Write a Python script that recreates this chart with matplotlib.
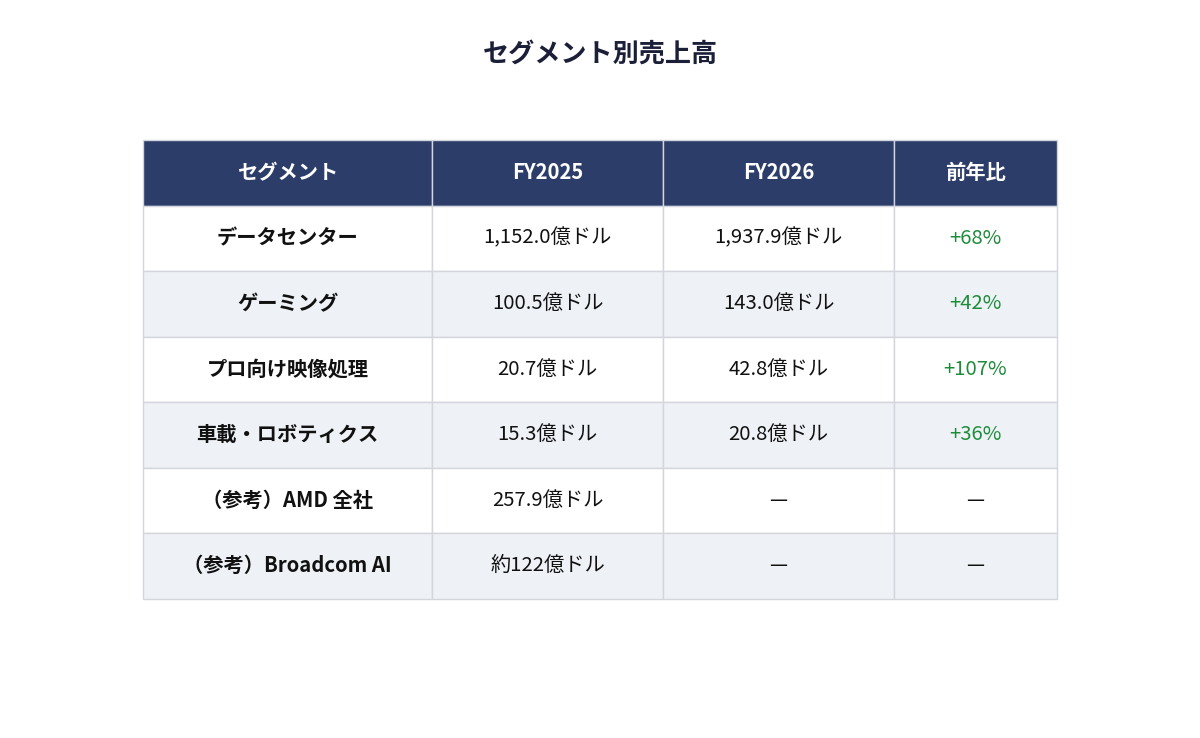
import matplotlib
matplotlib.use("Agg")
import matplotlib.pyplot as plt
from matplotlib.patches import Rectangle

plt.rcParams['font.family'] = ['Noto Sans CJK JP', 'DejaVu Sans']

title = "セグメント別売上高"
headers = ["セグメント", "FY2025", "FY2026", "前年比"]
segments = ["データセンター", "ゲーミング", "プロ向け映像処理", "車載・ロボティクス",
            "（参考）AMD 全社", "（参考）Broadcom AI"]
fy2025 = ["1,152.0億ドル", "100.5億ドル", "20.7億ドル", "15.3億ドル", "257.9億ドル", "約122億ドル"]
fy2026 = ["1,937.9億ドル", "143.0億ドル", "42.8億ドル", "20.8億ドル", "—", "—"]
yoy = ["+68%", "+42%", "+107%", "+36%", "—", "—"]

col_edges = [143, 432, 663, 894, 1057]
top = 140
header_h = 65.5
row_h = 65.5

HEADER_BG = "#2c3d69"
ALT_BG = "#eef2f7"
BORDER = "#d3d6dc"
GREEN = "#1e8c3a"
TEXT = "#111111"
FS = 14.6

fig = plt.figure(figsize=(12, 7.38), dpi=100)
ax = fig.add_axes([0, 0, 1, 1])
ax.set_xlim(0, 1200)
ax.set_ylim(738, 0)
ax.axis('off')

fig.text(0.5, 1 - 54 / 738, title, ha='center', va='center', fontsize=18.8,
         fontweight='bold', color="#1b1f38")

# header
for i, h in enumerate(headers):
    x0, x1 = col_edges[i], col_edges[i + 1]
    ax.add_patch(Rectangle((x0, top), x1 - x0, header_h, facecolor=HEADER_BG,
                           edgecolor=BORDER, linewidth=1))
    ax.text((x0 + x1) / 2, top + header_h / 2, h, ha='center', va='center',
            fontsize=FS, fontweight='bold', color='white')

rows = list(zip(segments, fy2025, fy2026, yoy))
for r, row in enumerate(rows):
    y0 = top + header_h + r * row_h
    bg = "white" if r % 2 == 0 else ALT_BG
    for c, val in enumerate(row):
        x0, x1 = col_edges[c], col_edges[c + 1]
        ax.add_patch(Rectangle((x0, y0), x1 - x0, row_h, facecolor=bg,
                               edgecolor=BORDER, linewidth=1))
        color = TEXT
        weight = 'normal'
        if c == 0:
            weight = 'bold'
        if c == 3 and val.startswith('+'):
            color = GREEN
        ax.text((x0 + x1) / 2, y0 + row_h / 2, val, ha='center', va='center',
                fontsize=FS, fontweight=weight, color=color)

fig.savefig("out.png", dpi=100, facecolor='white')
